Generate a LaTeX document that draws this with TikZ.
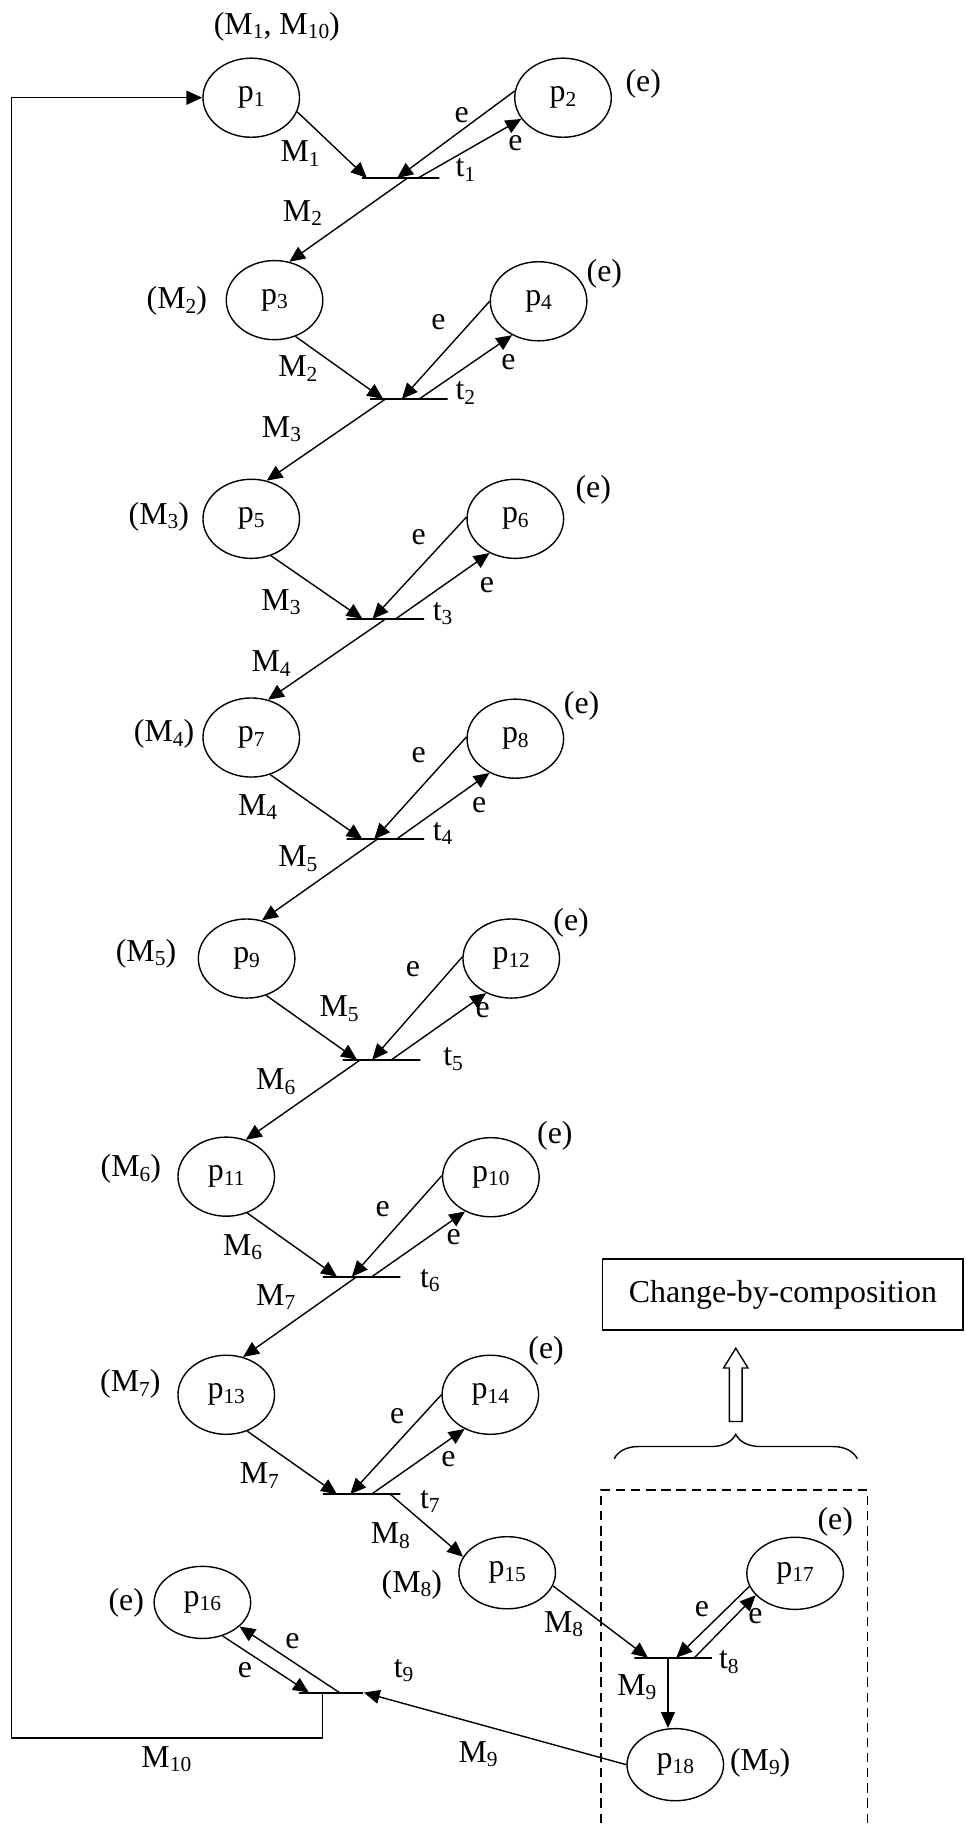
\documentclass[tikz,border=0pt]{standalone}
\usepackage{fontspec}
\setmainfont{Liberation Serif}
\usetikzlibrary{arrows.meta, shapes.geometric, calc, decorations.pathreplacing}
\newcommand{\lo}[1]{\raisebox{-0.3ex}{\fontsize{9.2}{10}\selectfont #1}}

\begin{document}
\begin{tikzpicture}[x=0.5pt, y=-0.5pt,
  font=\fontsize{13.7}{16}\selectfont,
  place/.style={ellipse, draw, line width=0.6pt, minimum width=41.5pt,
                minimum height=34pt, inner sep=0pt},
  lowplace/.style={place, minimum height=31pt},
  tbar/.style={draw, line width=0.8pt, minimum width=33.3pt,
               minimum height=0pt, inner sep=0pt},
  arc/.style={-{Triangle[length=6.8pt, width=6pt]}, line width=0.6pt},
  lbl/.style={inner sep=0pt}
]
\useasboundingbox (0,0) rectangle (830,1568);

% places
\node[place] (p1) at (216,84) {p\lo{1}};
\node[place] (p2) at (484,84) {p\lo{2}};
\node[place] (p3) at (236,258) {p\lo{3}};
\node[place] (p4) at (463,259) {p\lo{4}};
\node[place] (p5) at (216,446) {p\lo{5}};
\node[place] (p6) at (443,446) {p\lo{6}};
\node[place] (p7) at (216,634) {p\lo{7}};
\node[place] (p8) at (443,635) {p\lo{8}};
\node[place] (p9) at (212,824) {p\lo{9}};
\node[place] (p12) at (439.5,824) {p\lo{12}};
\node[place] (p11) at (194.5,1011.5) {p\lo{11}};
\node[place] (p10) at (422,1012) {p\lo{10}};
\node[place] (p13) at (194.5,1199) {p\lo{13}};
\node[place] (p14) at (421.5,1199) {p\lo{14}};
\node[lowplace] (p15) at (436,1352) {p\lo{15}};
\node[lowplace] (p16) at (174,1377.5) {p\lo{16}};
\node[lowplace] (p17) at (683.5,1352.5) {p\lo{17}};
\node[lowplace] (p18) at (580.5,1517) {p\lo{18}};

% transitions
\node[tbar] (t1) at (344.5,153) {};
\node[tbar] (t2) at (351.5,343) {};
\node[tbar] (t3) at (331.3,532) {};
\node[tbar] (t4) at (331.3,721.5) {};
\node[tbar] (t5) at (328,911) {};
\node[tbar] (t6) at (310.8,1097.5) {};
\node[tbar] (t7) at (310.8,1284.5) {};
\node[tbar] (t8) at (578.7,1425) {};
\node[tbar, minimum width=27.5pt] (t9) at (284.5,1455) {};

% markings
\node[lbl] (mk1) at (238,23) {(M\lo{1}, M\lo{10})};
\node[lbl] (mk2) at (553,72) {(e)};
\node[lbl] (mk3) at (152,259) {(M\lo{2})};
\node[lbl] (mk4) at (519.5,235) {(e)};
\node[lbl] (mk5) at (136.5,444) {(M\lo{3})};
\node[lbl] (mk6) at (510,421.5) {(e)};
\node[lbl] (mk7) at (141,631) {(M\lo{4})};
\node[lbl] (mk8) at (500,606.5) {(e)};
\node[lbl] (mk9) at (125.5,820) {(M\lo{5})};
\node[lbl] (mk12) at (491,793) {(e)};
\node[lbl] (mk11) at (112.5,1005) {(M\lo{6})};
\node[lbl] (mk10) at (477,976) {(e)};
\node[lbl] (mk13) at (112,1190) {(M\lo{7})};
\node[lbl] (mk14) at (469.5,1161) {(e)};
\node[lbl] (mk15) at (354,1362) {(M\lo{8})};
\node[lbl] (mk16) at (108.5,1377.5) {(e)};
\node[lbl] (mk17) at (718,1308.5) {(e)};
\node[lbl] (mk18) at (653.5,1515) {(M\lo{9})};

% transition names
\node[lbl] (n1) at (400,146) {t\lo{1}};
\node[lbl] (n2) at (400,338) {t\lo{2}};
\node[lbl] (n3) at (380.5,527.5) {t\lo{3}};
\node[lbl] (n4) at (380.5,716.5) {t\lo{4}};
\node[lbl] (n5) at (389.5,910.5) {t\lo{5}};
\node[lbl] (n6) at (369.5,1101) {t\lo{6}};
\node[lbl] (n7) at (369.5,1291) {t\lo{7}};
\node[lbl] (n8) at (626.5,1429) {t\lo{8}};
\node[lbl] (n9) at (347,1436) {t\lo{9}};

% stage 1
\draw[arc] (p1.343) -- ([xshift=2.5pt]t1.west);
\draw[arc] (p2.172) -- ([xshift=15.5pt]t1.west);
\draw[arc] ([xshift=24.5pt]t1.west) -- (p2.207);
\draw[arc] ([xshift=20pt]t1.west) -- (p3.69);
\node[lbl] (a1) at (258,132) {M\lo{1}};
\node[lbl] (a2) at (260,183) {M\lo{2}};
\node[lbl] (a3) at (397,99) {e};
\node[lbl] (a4) at (443,123) {e};

% stage 2
\draw[arc] (p3.300) -- ([xshift=6pt]t2.west);
\draw[arc] (p4.180) -- ([xshift=14pt]t2.west);
\draw[arc] ([xshift=21.5pt]t2.west) -- (p4.232);
\draw[arc] ([xshift=7pt]t2.west) -- (p5.68);
\node[lbl] (b1) at (256,317) {M\lo{2}};
\node[lbl] (b2) at (242,369) {M\lo{3}};
\node[lbl] (b3) at (377,277) {e};
\node[lbl] (b4) at (437,311) {e};

% stage 3
\draw[arc] (p5.298) -- ([xshift=7.2pt]t3.west);
\draw[arc] (p6.178) -- ([xshift=11.5pt]t3.west);
\draw[arc] ([xshift=21.5pt]t3.west) -- (p6.233);
\draw[arc] ([xshift=17.2pt]t3.west) -- (p7.66);
\node[lbl] (c1) at (241.5,517.5) {M\lo{3}};
\node[lbl] (c2) at (233,570.5) {M\lo{4}};
\node[lbl] (c3) at (360,461.5) {e};
\node[lbl] (c4) at (418.5,503) {e};

% stage 4
\draw[arc] (p7.297) -- ([xshift=7.2pt]t4.west);
\draw[arc] (p8.178) -- ([xshift=12.2pt]t4.west);
\draw[arc] ([xshift=21.7pt]t4.west) -- (p8.233);
\draw[arc] ([xshift=13.5pt]t4.west) -- (p9.68);
\node[lbl] (d1) at (221.5,694) {M\lo{4}};
\node[lbl] (d2) at (256,738) {M\lo{5}};
\node[lbl] (d3) at (360,649.5) {e};
\node[lbl] (d4) at (412,692.5) {e};

% stage 5
\draw[arc] (p9.298) -- ([xshift=6.5pt]t5.west);
\draw[arc] (p12.178) -- ([xshift=13pt]t5.west);
\draw[arc] ([xshift=21.3pt]t5.west) -- (p12.234);
\draw[arc] ([xshift=8pt]t5.west) -- (p11.62);
\node[lbl] (f1) at (291.5,867) {M\lo{5}};
\node[lbl] (f2) at (237,930) {M\lo{6}};
\node[lbl] (f3) at (355,833) {e};
\node[lbl] (f4) at (415,868.5) {e};

% stage 6
\draw[arc] (p11.300) -- ([xshift=6.5pt]t6.west);
\draw[arc] (p10.178) -- ([xshift=12.9pt]t6.west);
\draw[arc] ([xshift=21.5pt]t6.west) -- (p10.233);
\draw[arc] ([xshift=15pt]t6.west) -- (p13.66);
\node[lbl] (g1) at (208.5,1072) {M\lo{6}};
\node[lbl] (g2) at (237,1115) {M\lo{7}};
\node[lbl] (g3) at (329,1039) {e};
\node[lbl] (g4) at (390,1063.5) {e};

% stage 7
\draw[arc] (p13.300) -- ([xshift=6.5pt]t7.west);
\draw[arc] (p14.180) -- ([xshift=12.2pt]t7.west);
\draw[arc] ([xshift=21.3pt]t7.west) -- (p14.233);
\draw[arc] ([xshift=29.4pt]t7.west) -- (p15.160);
\node[lbl] (h1) at (223,1268.5) {M\lo{7}};
\node[lbl] (h2) at (335.5,1320) {M\lo{8}};
\node[lbl] (h3) at (341.5,1217) {e};
\node[lbl] (h4) at (385.5,1254) {e};

% stage 8
\draw[arc] (p15.344) -- ([xshift=6.2pt]t8.west);
\draw[arc] (p17.196) -- ([xshift=18.4pt]t8.west);
\draw[arc] ([xshift=26.2pt]t8.west) -- (p17.209);
\draw[arc] ([xshift=14.8pt]t8.west) -- ([xshift=14.8pt]t8.west |- p18.north);
\node[lbl] (k1) at (484.5,1396) {M\lo{8}};
\node[lbl] (k2) at (547.5,1450.5) {M\lo{9}};
\node[lbl] (k3) at (603.5,1383) {e};
\node[lbl] (k4) at (649.5,1389) {e};

% stage 9 and loop back
\draw[arc] (p18.180) -- (t9.east);
\draw[arc] (p16.301) -- ([xshift=4.7pt]t9.west);
\draw[arc] ([xshift=17.8pt]t9.west) -- (p16.327);
\coordinate (loop) at (10,1494);
\draw[arc] ([xshift=10.4pt]t9.west) |- (loop) |- (p1.west);
\node[lbl] (r1) at (411,1508) {M\lo{9}};
\node[lbl] (r2) at (251.5,1410.5) {e};
\node[lbl] (r3) at (210.5,1436) {e};
\node[lbl] (r4) at (143,1512) {M\lo{10}};

% composition part
\draw[dash pattern=on 4pt off 2.5pt, line width=0.6pt]
  (516.5,1580) -- (516.5,1281) -- (745.5,1281) -- (745.5,1580);
\draw[line width=0.6pt, decorate, decoration={brace, amplitude=10.5pt}]
  (528,1254) -- (737,1254);
\draw[line width=0.6pt] (627,1222) -- (627,1176) -- (622,1176) -- (632.5,1159)
  -- (643,1176) -- (638,1176) -- (638,1222) -- cycle;
\node[draw, line width=0.7pt, minimum width=155pt, minimum height=30.5pt]
  (cbc) at (673,1113) {Change-by-composition};
\end{tikzpicture}
\end{document}
